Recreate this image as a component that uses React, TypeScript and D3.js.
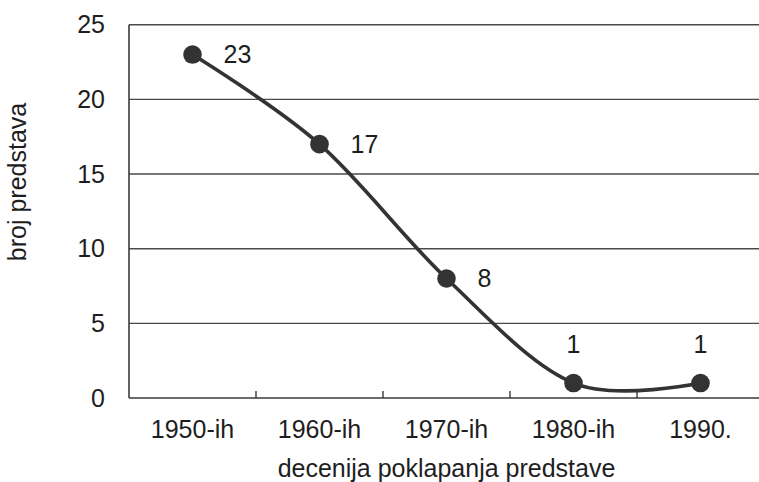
import React from "react";
import * as d3 from "d3";

const categories = ["1950-ih", "1960-ih", "1970-ih", "1980-ih", "1990."];
const values = [23, 17, 8, 1, 1];
const yTicks = [0, 5, 10, 15, 20, 25];
const labelSide = ["right", "right", "right", "top", "top"];
const xTitle = "decenija poklapanja predstave";
const yTitle = "broj predstava";

const W = 759;
const H = 482;
const FONT = "'Liberation Sans', Arial, Helvetica, sans-serif";
const INK = "#333333";
const TXT = "#1e1e1e";

export default function App() {
  const x = d3.scaleBand<string>().domain(categories).range([129, 764]).padding(0);
  const y = d3.scaleLinear().domain([0, 25]).range([398, 24.7]);
  const cx = (c: string) => (x(c) as number) + x.bandwidth() / 2;

  const pts: [number, number][] = categories.map((c, i) => [cx(c), y(values[i])]);
  const line = d3.line().curve(d3.curveCardinal.tension(0))(pts) as string;

  const boundaries = categories.map((c) => (x(c) as number) + x.bandwidth()).slice(0, -1);

  return (
    <svg
      width={W}
      height={H}
      style={{ position: "absolute", left: 0, top: 0, background: "#fff" }}
      fontFamily={FONT}
    >
      {/* gridlines */}
      {yTicks
        .filter((t) => t > 0)
        .map((t) => (
          <line key={t} x1={129} x2={764} y1={y(t)} y2={y(t)} stroke="#4a4a4a" strokeWidth={1.4} />
        ))}
      {/* axes */}
      <line x1={129} x2={129} y1={y(25)} y2={y(0)} stroke="#3a3a3a" strokeWidth={1.6} />
      <line x1={129} x2={764} y1={y(0)} y2={y(0)} stroke="#3a3a3a" strokeWidth={1.6} />
      {boundaries.map((b, i) => (
        <line key={i} x1={b} x2={b} y1={y(0)} y2={y(0) - 7} stroke="#3a3a3a" strokeWidth={1.4} />
      ))}
      {/* y tick labels */}
      {yTicks.map((t) => (
        <text key={t} x={105} y={y(t)} dy="0.35em" textAnchor="end" fontSize={25} fill={TXT}>
          {t}
        </text>
      ))}
      {/* x tick labels */}
      {categories.map((c) => (
        <text key={c} x={cx(c)} y={438} textAnchor="middle" fontSize={25} fill={TXT}>
          {c}
        </text>
      ))}
      {/* titles */}
      <text x={(129 + 764) / 2} y={477} textAnchor="middle" fontSize={25} fill={TXT}>
        {xTitle}
      </text>
      <text
        transform={`translate(26, ${182}) rotate(-90)`}
        textAnchor="middle"
        fontSize={25}
        fill={TXT}
      >
        {yTitle}
      </text>
      {/* line */}
      <path d={line} fill="none" stroke={INK} strokeWidth={3.6} />
      {pts.map(([px, py], i) => (
        <circle key={i} cx={px} cy={py} r={9.3} fill={INK} />
      ))}
      {/* data labels */}
      {pts.map(([px, py], i) =>
        labelSide[i] === "right" ? (
          <text key={i} x={px + 31} y={py} dy="0.35em" fontSize={25} fill={TXT}>
            {values[i]}
          </text>
        ) : (
          <text key={i} x={px} y={py - 30} textAnchor="middle" fontSize={25} fill={TXT}>
            {values[i]}
          </text>
        )
      )}
    </svg>
  );
}
